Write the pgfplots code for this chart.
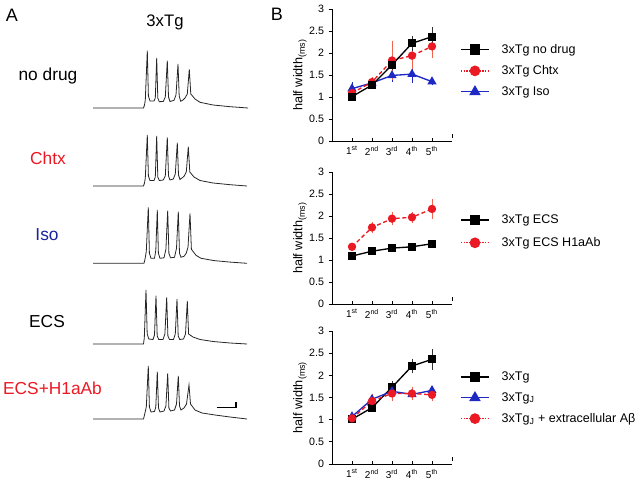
\documentclass[border=0pt]{standalone}
\usepackage{pgfplots}
\usepackage{pgfplotstable}
\pgfplotsset{compat=1.18}
\usepackage{fontspec}
\setmainfont{Liberation Sans}
\definecolor{myred}{RGB}{235,25,35}
\definecolor{myblue}{RGB}{30,40,195}
\definecolor{textblue}{RGB}{25,35,160}
\definecolor{errred}{RGB}{240,100,80}

\pgfplotstableread{
x h
93 0
143.5 0
144.5 3
145.3 8
147.3 57.3
148.4 12
150 7
154 7
155.3 10
156.7 50
157.8 10
159.3 6.3
163.3 6.5
165.3 11
167.3 47.3
168.5 11
170 6.5
174 7.7
176 13
178 44
179.2 12
180.7 6.7
183 8
185 10
187.3 14
189.3 38.7
190.8 14
195 9
200 5.7
213 3
230 1.3
248 0
}\traceA
\pgfplotstableread{
x h
93 0
143.5 0
144.5 3
145.3 8
147.3 51
148.4 10
150 5.5
154 5.5
155.3 9
156.7 50
157.8 9
159.3 5.5
163.3 6
165.3 10
167.3 48.7
168.5 10
170 6
173.3 7
175.3 12
177.3 43.3
178.5 11
180 6.5
182 8
184.3 10
186.3 14
188.3 39.3
189.8 14
194 9
200 5.5
213 3
230 1.3
247 0
}\traceB
\pgfplotstableread{
x h
93 0
144 0
145 4
146.3 12
148.3 56
149.4 10
151 5
154.5 5
155.8 13
157.3 53.3
158.4 10
160 5
164 5.5
165.9 14
167.7 52.7
168.9 10
170.5 5.5
174.5 6
176.5 15
178.3 51.7
179.5 10
181 6
184 7
186.2 10
188 16
190 50
191.4 14
196 8
201 5
214 2.7
230 1.2
247 0
}\traceC
\pgfplotstableread{
x h
93 0
143.5 0
144.3 6
146 54
147.2 10
148.8 5
153 4.5
154.5 9
156 48.3
157.2 8
158.8 4.5
163 4.5
164.9 10
166.7 46.7
167.9 8
169.5 4.5
173.5 4.5
175.3 10
177 45
178.2 8
179.8 4.5
183.5 5
185.5 10
187.3 43
188.6 10
193 7
200 4.5
213 2.5
230 1
247 0
}\traceD
\pgfplotstableread{
x h
93 0
143.5 0
144.5 4
146.3 12
148.3 53
149.4 12
151 7
154.5 7.5
155.8 12
157.3 47.3
158.5 11
160 7
164 8
165.9 13
167.7 45.7
168.9 11
170.5 8
174.5 9
176.5 15
178.3 43
179.5 13
181 9
184 11
186.5 15
189 34
190.5 15
195 9
202 6
215 4
230 2
247 0
}\traceE

\pgfplotsset{
  halfw/.style={
    scale only axis, width=90pt, height=99pt,
    xmin=0, xmax=6, ymin=0, ymax=3,
    axis lines*=left,
    axis line style={black, line width=0.7pt},
    xtick={1,2,3,4,5},
    xticklabels={1\textsuperscript{st},2\textsuperscript{nd},3\textsuperscript{rd},4\textsuperscript{th},5\textsuperscript{th}},
    extra x ticks={6}, extra x tick labels={},
    ytick={0,0.5,1,1.5,2,2.5,3},
    /pgf/number format/assume math mode=true,
    yticklabel style={font=\fontsize{8}{10}\selectfont},
    xticklabel style={font=\fontsize{7.5}{9}\selectfont, yshift=2pt},
    tick align=outside, major tick length=2.5pt,
    tick style={black, line width=0.6pt},
    every major x tick/.append style={yshift=2.5pt},
    every extra x tick/.append style={yshift=2.5pt},
    ylabel={half width\textsubscript{(ms)}},
    ylabel style={at={(axis description cs:-0.267,0.5)}, anchor=center, font=\fontsize{9.5}{11}\selectfont},
    clip=false,
    legend cell align=left,
    legend image code/.code={\draw[mark repeat=2,mark phase=2,#1] plot coordinates {(0pt,0pt) (10.5pt,0pt) (21pt,0pt)};},
    legend style={draw=none, fill=none, inner sep=0pt, font=\fontsize{9.4}{11}\selectfont,
      nodes={inner sep=1pt}, row sep=5.5pt,
      /tikz/every odd column/.append style={column sep=8pt}},
  },
  sblack/.style={black, line width=1pt, mark=square*, mark size=2.5pt, mark options={solid}},
  sred/.style={myred, line width=1pt, densely dashed, mark=*, mark size=2.6pt, mark options={solid}},
  sblue/.style={myblue, line width=1pt, mark=triangle*, mark size=3pt, mark options={solid}},
  ebar/.style={error bars/.cd, y dir=both, y explicit, error bar style={#1, line width=0.5pt, solid}, error mark options={#1, mark size=1.6pt, line width=0.5pt}},
}

\begin{document}
\begin{tikzpicture}
\useasboundingbox (0,0) rectangle (480pt,-360.75pt);

% ---------- panel A: traces and labels ----------
\begin{axis}[at={(0pt,-360.75pt)}, anchor=origin, scale only axis,
  width=480pt, height=360.75pt, xmin=0, xmax=640, ymin=0, ymax=481,
  hide axis, clip=false]
\addplot[black!85, line width=0.6pt] table[x=x, y expr=\thisrow{h}+373] {\traceA};
\addplot[black!85, line width=0.6pt] table[x=x, y expr=\thisrow{h}+295] {\traceB};
\addplot[black!85, line width=0.6pt] table[x=x, y expr=\thisrow{h}+217.7] {\traceC};
\addplot[black!85, line width=0.6pt] table[x=x, y expr=\thisrow{h}+137] {\traceD};
\addplot[black!85, line width=0.6pt] table[x=x, y expr=\thisrow{h}+62] {\traceE};
% scale bar
\addplot[black, line width=0.8pt] coordinates {(216.7,73.7) (236,73.7) (236,79.3)};
\node[font=\fontsize{13.5}{15}\selectfont] at (axis cs:12,466) {A};
\node[font=\fontsize{12.5}{14}\selectfont] at (axis cs:165,459) {3xTg};
\node[font=\fontsize{13}{15}\selectfont] at (axis cs:48,405) {no drug};
\node[font=\fontsize{13}{15}\selectfont, text=myred] at (axis cs:48,323) {Chtx};
\node[font=\fontsize{13}{15}\selectfont, text=textblue] at (axis cs:47,246) {Iso};
\node[font=\fontsize{13}{15}\selectfont] at (axis cs:47,159.3) {ECS};
\node[font=\fontsize{13}{15}\selectfont, text=myred] at (axis cs:52.5,93) {ECS+H1aAb};
\node[font=\fontsize{13.5}{15}\selectfont] at (axis cs:277,467) {B};
\end{axis}

% ---------- panel B, plot 1 ----------
\begin{axis}[halfw, at={(249pt,-105.75pt)}, anchor=origin,
  legend style={at={(1.067,0.745)}, anchor=north west}]
\addlegendimage{sblack, mark size=3.5pt}
\addlegendentry{3xTg no drug}
\addlegendimage{myred, line width=1pt, densely dotted, mark=*, mark size=3.5pt, mark options={solid}}
\addlegendentry{3xTg Chtx}
\addlegendimage{sblue, mark size=4pt}
\addlegendentry{3xTg Iso}
\addplot[forget plot, sblue, ebar=myblue] coordinates {
 (1,1.19) +- (0,0.10) (2,1.32) +- (0,0.05) (3,1.49) +- (0,0.10) (4,1.52) +- (0,0.15) (5,1.35) +- (0,0.03)};
\addplot[forget plot, sred, ebar=errred] coordinates {
 (1,1.09) +- (0,0.05) (2,1.34) +- (0,0.07) (3,1.83) +- (0,0.40) (4,1.94) +- (0,0.25) (5,2.15) +- (0,0.22)};
\addplot[forget plot, sblack, ebar=black!80] coordinates {
 (1,1.01) +- (0,0.04) (2,1.27) +- (0,0.04) (3,1.73) +- (0,0.06) (4,2.22) +- (0,0.12) (5,2.37) +- (0,0.17)};
\end{axis}

% ---------- panel B, plot 2 ----------
\begin{axis}[halfw, at={(249pt,-228pt)}, anchor=origin,
  legend style={at={(1.067,0.69)}, anchor=north west, row sep=7pt}]
\addlegendimage{sblack, mark size=3.5pt}
\addlegendentry{3xTg ECS}
\addlegendimage{myred, line width=1pt, densely dotted, mark=*, mark size=3.5pt, mark options={solid}}
\addlegendentry{3xTg ECS H1aAb}
\addplot[forget plot, sblack, ebar=black!80] coordinates {
 (1,1.09) +- (0,0.02) (2,1.20) +- (0,0.02) (3,1.27) +- (0,0.02) (4,1.30) +- (0,0.02) (5,1.37) +- (0,0.02)};
\addplot[forget plot, sred, ebar=errred] coordinates {
 (1,1.30) +- (0,0.03) (2,1.74) +- (0,0.08) (3,1.94) +- (0,0.10) (4,1.97) +- (0,0.08) (5,2.16) +- (0,0.18)};
\end{axis}

% ---------- panel B, plot 3 ----------
\begin{axis}[halfw, at={(249pt,-348pt)}, anchor=origin, height=99.75pt,
  legend style={at={(1.067,0.707)}, anchor=north west}]
\addlegendimage{sblack, mark size=3.5pt}
\addlegendentry{3xTg}
\addlegendimage{sblue, mark size=4pt}
\addlegendentry{3xTg\textsubscript{J}}
\addlegendimage{myred, line width=1pt, densely dotted, mark=*, mark size=3.5pt, mark options={solid}}
\addlegendentry{3xTg\textsubscript{J} + extracellular Aβ}
\addplot[forget plot, sblack, ebar=black!80] coordinates {
 (1,1.01) +- (0,0.03) (2,1.27) +- (0,0.04) (3,1.73) +- (0,0.10) (4,2.21) +- (0,0.12) (5,2.36) +- (0,0.19)};
\addplot[forget plot, sblue, ebar=myblue] coordinates {
 (1,1.07) +- (0,0.03) (2,1.46) +- (0,0.08) (3,1.64) +- (0,0.05) (4,1.57) +- (0,0.06) (5,1.66) +- (0,0.04)};
\addplot[forget plot, sred, ebar=errred] coordinates {
 (1,1.03) +- (0,0.03) (2,1.42) +- (0,0.10) (3,1.59) +- (0,0.12) (4,1.59) +- (0,0.10) (5,1.56) +- (0,0.08)};
\end{axis}
\end{tikzpicture}
\end{document}
